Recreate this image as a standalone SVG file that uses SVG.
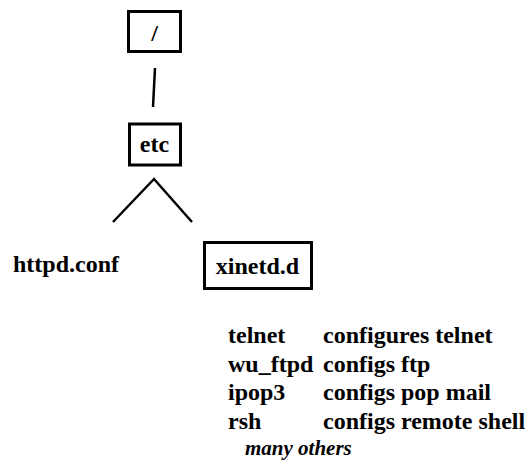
<svg xmlns="http://www.w3.org/2000/svg" width="529" height="464" viewBox="0 0 529 464">
<style>
.box{fill:#fff;stroke:#000;stroke-width:3}
.t{font-family:"Liberation Serif",serif;font-weight:bold;font-size:24px;fill:#000}
.i{font-family:"Liberation Serif",serif;font-weight:bold;font-style:italic;font-size:21px;fill:#000}
.ln{stroke:#000;stroke-width:2.5;fill:none}
</style>
<rect width="529" height="464" fill="#fff"/>
<g id="connectors">
<line class="ln" x1="155" y1="68" x2="153" y2="107"/>
<polyline class="ln" points="113,222 154,179 192,222"/>
</g>
<g id="root">
<rect class="box" x="128.5" y="11.5" width="52" height="40"/>
<text class="t" x="154.5" y="41" text-anchor="middle">/</text>
</g>
<g id="etc">
<rect class="box" x="129.5" y="124" width="51" height="41"/>
<text class="t" x="154.5" y="152" text-anchor="middle">etc</text>
</g>
<g id="httpd">
<text class="t" x="13" y="272">httpd.conf</text>
</g>
<g id="xinetd">
<rect class="box" x="204.5" y="242.5" width="107" height="46"/>
<text class="t" x="257.5" y="274" text-anchor="middle">xinetd.d</text>
</g>
<g id="table">
<text class="t" x="228" y="343">telnet</text>
<text class="t" x="323" y="343">configures telnet</text>
<text class="t" x="228" y="371.5">wu_ftpd</text>
<text class="t" x="323" y="371.5">configs ftp</text>
<text class="t" x="228" y="400">ipop3</text>
<text class="t" x="323" y="400">configs pop mail</text>
<text class="t" x="228" y="428.5">rsh</text>
<text class="t" x="323" y="428.5">configs remote shell</text>
<text class="i" x="245" y="455">many others</text>
</g>
</svg>
